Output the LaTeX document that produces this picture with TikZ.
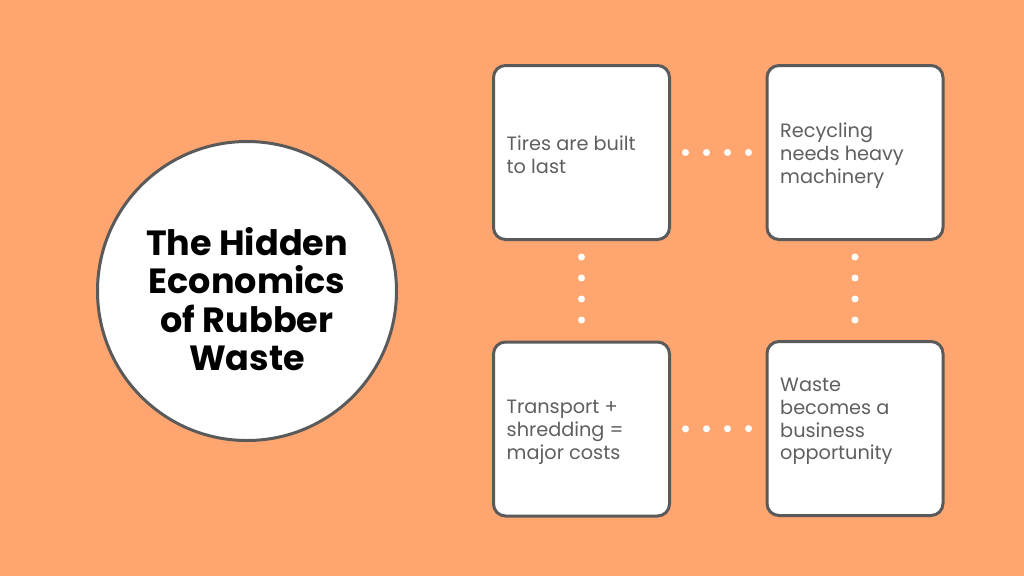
\documentclass[tikz,border=0pt]{standalone}
\usepackage{fontspec}
\setmainfont{Poppins}
\newfontfamily\popbold{Poppins Bold}
\definecolor{bgorange}{RGB}{255,166,112}
\definecolor{edgegray}{RGB}{90,90,90}
\definecolor{txtgray}{RGB}{95,95,95}
\begin{document}
\begin{tikzpicture}[x=1pt,y=-1pt,
  card/.style={draw=edgegray, line width=3pt, fill=white, rounded corners=12pt,
    minimum width=176pt, minimum height=174pt, inner sep=0pt},
  cardtext/.style={anchor=west, inner sep=0pt, align=left, text=txtgray,
    font=\fontsize{19.3pt}{22.8pt}\selectfont},
  hub/.style={circle, draw=edgegray, line width=3pt, fill=white, minimum size=299pt, inner sep=0pt},
  hubtext/.style={align=center, inner sep=0pt, font=\popbold\fontsize{35pt}{38.5pt}\selectfont},
  dotlink/.style={white, line width=7pt, line cap=round, dash pattern=on 0pt off 21pt}
]
\fill[bgorange] (0,0) rectangle (1024,576);
\useasboundingbox (0,0) rectangle (1024,576);

\node[hub] (hub) at (247,291) {};
\node[hubtext] (title) at (247,299) {The Hidden\\Economics\\of Rubber\\Waste};

\node[card] (b1) at (581.5,152.5) {};
\node[card] (b2) at (855,152.5) {};
\node[card] (b3) at (581.5,429) {};
\node[card] (b4) at (855,428.5) {};

\node[cardtext] (t1) at ([xshift=14.5pt,yshift=-2pt]b1.west) {Tires are built\\to last};
\node[cardtext] (t2) at ([xshift=14.5pt,yshift=-3pt]b2.west) {Recycling\\needs heavy\\machinery};
\node[cardtext] (t3) at ([xshift=14.5pt,yshift=-3pt]b3.west) {Transport +\\shredding =\\major costs};
\node[cardtext] (t4) at ([xshift=14.5pt,yshift=7pt]b4.west) {Waste\\becomes a\\business\\opportunity};

\draw[dotlink, shorten <=14.5pt, shorten >=13.5pt] (b1.east) -- (b2.west);
\draw[dotlink, shorten <=14.5pt, shorten >=13.5pt] (b3.east) -- (b4.west);
\draw[dotlink, shorten <=16pt, shorten >=16pt] (b1.south) -- (b3.north);
\draw[dotlink, shorten <=16pt, shorten >=16pt] (b2.south) -- (b4.north);
\end{tikzpicture}
\end{document}
